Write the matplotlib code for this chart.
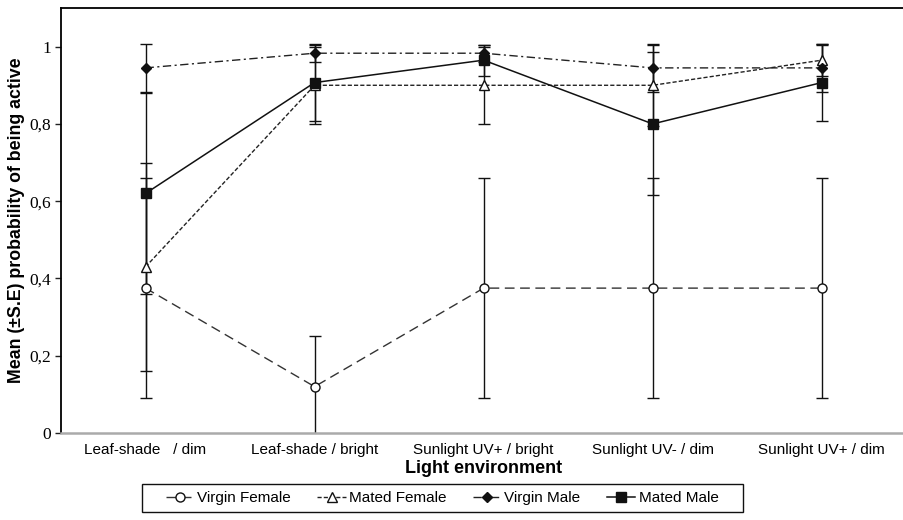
import matplotlib.pyplot as plt
from matplotlib.ticker import FixedLocator, FixedFormatter
from matplotlib.patches import Rectangle

# categories (x) and y tick labels
environments = ['Leaf-shade   / dim', 'Leaf-shade / bright', 'Sunlight UV+ / bright',
                'Sunlight UV- / dim', 'Sunlight UV+ / dim']
y_ticks = [0, 0.2, 0.4, 0.6, 0.8, 1.0]
y_tick_labels = ['0', '0,2', '0,4', '0,6', '0,8', '1']

# mean probability of being active and standard errors
virgin_female = [0.375, 0.12, 0.375, 0.375, 0.375]
virgin_female_se = [0.285, 0.13, 0.285, 0.285, 0.285]
mated_female = [0.43, 0.90, 0.90, 0.90, 0.965]
mated_female_se = [0.27, 0.10, 0.10, 0.105, 0.04]
virgin_male = [0.945, 0.983, 0.983, 0.945, 0.945]
virgin_male_se = [0.062, 0.022, 0.022, 0.062, 0.062]
mated_male = [0.62, 0.907, 0.965, 0.80, 0.907]
mated_male_se = [0.26, 0.10, 0.04, 0.185, 0.10]

x = list(range(len(environments)))

fig = plt.figure(figsize=(9.04, 5.2), dpi=100)
ax = fig.add_axes([0.0675, 0.1673, 0.935, 0.8173])

# error bars first (black, thin)
for vals, se in [(virgin_female, virgin_female_se), (mated_female, mated_female_se),
                 (virgin_male, virgin_male_se), (mated_male, mated_male_se)]:
    ax.errorbar(x, vals, yerr=se, fmt='none', ecolor='#111111', elinewidth=1.0,
                capsize=4, capthick=1.0, zorder=2)

ax.plot(x, virgin_female, linestyle=(0, (7, 4)), color='#333333', linewidth=1.0,
        marker='o', markersize=6.5, markerfacecolor='white', markeredgecolor='#111111',
        label='Virgin Female', zorder=3)
ax.plot(x, mated_female, linestyle=(0, (3, 1.5)), color='#222222', linewidth=1.0,
        marker='^', markersize=7.5, markerfacecolor='white', markeredgecolor='#111111',
        label='Mated Female', zorder=3)
ax.plot(x, virgin_male, linestyle=(0, (6, 2.5, 1.5, 2.5)), color='#222222', linewidth=1.0,
        marker='D', markersize=5.5, markerfacecolor='#111111', markeredgecolor='#111111',
        label='Virgin Male', zorder=4)
ax.plot(x, mated_male, linestyle='-', color='#111111', linewidth=1.1,
        marker='s', markersize=7, markerfacecolor='#111111', markeredgecolor='#111111',
        label='Mated Male', zorder=4)

ax.set_xlim(-0.5, 4.5)
ax.set_ylim(0, 1.1)

ax.yaxis.set_major_locator(FixedLocator(y_ticks))
ax.yaxis.set_major_formatter(FixedFormatter(y_tick_labels))
for lbl in ax.get_yticklabels():
    lbl.set_family('Liberation Serif')
    lbl.set_fontsize(12.5)
ax.tick_params(axis='y', length=4, width=1, direction='out', pad=3, color='#222222')

ax.set_xticks(x)
ax.set_xticklabels(environments, family='Liberation Sans', fontsize=11)
ax.tick_params(axis='x', length=0, pad=7)

ax.spines['right'].set_visible(False)
ax.spines['left'].set_linewidth(1.3)
ax.spines['top'].set_linewidth(1.3)
ax.spines['bottom'].set_color('#aaaaaa')
ax.spines['bottom'].set_linewidth(1.8)

ax.set_xlabel('Light environment', family='Liberation Sans', fontweight='bold',
              fontsize=13, labelpad=2)
ax.set_ylabel('Mean (±S.E) probability of being active', family='Liberation Sans',
              fontweight='bold', fontsize=12.8, labelpad=3)

leg = fig.legend(loc='center', bbox_to_anchor=(0.489, 0.042), ncol=4, frameon=False,
                 handlelength=1.85, handletextpad=0.2, columnspacing=1.75,
                 borderpad=0.4, prop={'family': 'Liberation Sans', 'size': 11})

# legend frame with wider side padding, as in the original
fig.canvas.draw()
bb = leg.get_window_extent().transformed(fig.transFigure.inverted())
padx = 18 / 904
pady = 1 / 520
fig.patches.append(Rectangle((bb.x0 - padx, bb.y0 - pady), bb.width + 2 * padx,
                             bb.height + 2 * pady, transform=fig.transFigure,
                             fill=False, edgecolor='#111111', linewidth=1.0))

fig.savefig('out.png', dpi=100)
